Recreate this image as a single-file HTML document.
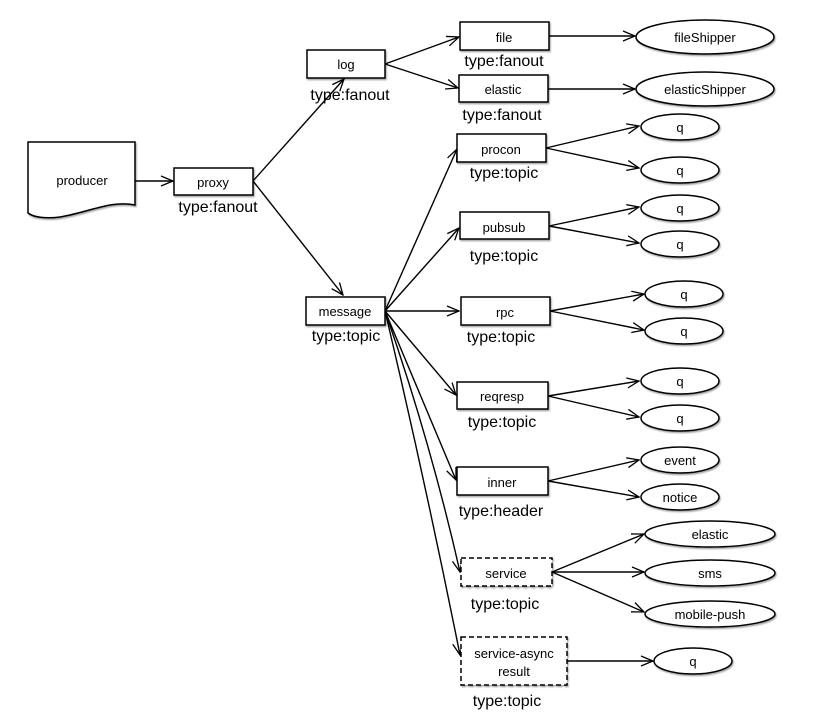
<!DOCTYPE html>
<html><head><meta charset="utf-8"><style>
html,body{margin:0;padding:0;background:#fff;}
svg{display:block;font-family:"Liberation Sans",Arial,sans-serif;}
</style></head><body>
<svg width="816" height="724" viewBox="0 0 816 724" xmlns="http://www.w3.org/2000/svg">
<defs>
<marker id="a" markerWidth="14" markerHeight="12" refX="13" refY="6" orient="auto" markerUnits="userSpaceOnUse">
<path d="M1,1 L13,6 L1,11" fill="none" stroke="#000" stroke-width="1.3"/>
</marker>
<filter id="s" x="-10%" y="-10%" width="130%" height="140%"><feDropShadow dx="1" dy="1.5" stdDeviation="0.8" flood-color="#000" flood-opacity="0.35"/></filter>
</defs>
<g stroke="#000" stroke-width="1.4" fill="none" marker-end="url(#a)">
<line x1="135" y1="181" x2="173" y2="181"/>
<line x1="253" y1="181" x2="344" y2="79"/>
<line x1="253" y1="181" x2="343" y2="295"/>
<line x1="385" y1="64" x2="459" y2="37"/>
<line x1="385" y1="64" x2="458" y2="88"/>
<line x1="549" y1="36" x2="635" y2="36"/>
<line x1="548" y1="89" x2="635" y2="89"/>
<line x1="385" y1="311" x2="457" y2="149"/>
<line x1="385" y1="311" x2="459" y2="228"/>
<line x1="385" y1="311" x2="459" y2="311"/>
<line x1="385" y1="311" x2="456" y2="395"/>
<line x1="385" y1="311" x2="456" y2="480"/>
<path d="M385,311 Q430,440 460,572"/>
<path d="M385,311 Q425,480 460,655"/>
<line x1="546" y1="148" x2="639" y2="126"/>
<line x1="546" y1="148" x2="639" y2="168"/>
<line x1="549" y1="226" x2="639" y2="207"/>
<line x1="549" y1="226" x2="639" y2="243"/>
<line x1="550" y1="311" x2="644" y2="294"/>
<line x1="550" y1="311" x2="644" y2="330"/>
<line x1="548" y1="396" x2="639" y2="381"/>
<line x1="548" y1="396" x2="639" y2="417"/>
<line x1="548" y1="481" x2="639" y2="460"/>
<line x1="548" y1="481" x2="639" y2="497"/>
<line x1="552" y1="572" x2="644" y2="534"/>
<line x1="552" y1="572" x2="644" y2="572"/>
<line x1="552" y1="572" x2="644" y2="612"/>
<line x1="567" y1="661" x2="653" y2="661"/>
</g>
<g fill="#fff" stroke="#000" stroke-width="1.5" filter="url(#s)">
<path d="M28,142 H135 V205 C110,200 90,212 60,217 C45,219 33,217 28,213 Z"/>
<rect x="174" y="168" width="79" height="27"/>
<rect x="307" y="50" width="78" height="28"/>
<rect x="306" y="297" width="79" height="28"/>
<rect x="460" y="22" width="89" height="28"/>
<rect x="459" y="75" width="89" height="27"/>
<rect x="457" y="134" width="89" height="28"/>
<rect x="460" y="212" width="89" height="27"/>
<rect x="461" y="297" width="89" height="28"/>
<rect x="457" y="382" width="91" height="27"/>
<rect x="457" y="467" width="91" height="28"/>
<rect x="461" y="558" width="91" height="28" stroke-dasharray="5,3"/>
<rect x="461" y="637" width="106" height="48" stroke-dasharray="5,3"/>
<ellipse cx="705" cy="37" rx="69" ry="17"/>
<ellipse cx="705" cy="89" rx="69" ry="17"/>
<ellipse cx="680" cy="127" rx="39" ry="13"/>
<ellipse cx="680" cy="170" rx="39" ry="13"/>
<ellipse cx="680" cy="208" rx="39" ry="13"/>
<ellipse cx="680" cy="244" rx="39" ry="13"/>
<ellipse cx="684" cy="294" rx="39" ry="13"/>
<ellipse cx="684" cy="331" rx="39" ry="13"/>
<ellipse cx="680" cy="381" rx="39" ry="13"/>
<ellipse cx="680" cy="418" rx="39" ry="13"/>
<ellipse cx="680" cy="460" rx="39" ry="13"/>
<ellipse cx="680" cy="497" rx="39" ry="13"/>
<ellipse cx="710" cy="534" rx="65" ry="13"/>
<ellipse cx="710" cy="573" rx="65" ry="13"/>
<ellipse cx="710" cy="614" rx="65" ry="13"/>
<ellipse cx="693" cy="661" rx="39" ry="13"/>
</g>
<g font-size="13" text-anchor="middle" fill="#000">
<text x="82" y="185">producer</text>
<text x="213" y="187">proxy</text>
<text x="346" y="69">log</text>
<text x="345" y="316">message</text>
<text x="504" y="42">file</text>
<text x="503" y="94">elastic</text>
<text x="501" y="154">procon</text>
<text x="504" y="232">pubsub</text>
<text x="505" y="317">rpc</text>
<text x="502" y="401">reqresp</text>
<text x="502" y="487">inner</text>
<text x="506" y="578">service</text>
<text x="514" y="658">service-async</text>
<text x="514" y="676">result</text>
<text x="705" y="42">fileShipper</text>
<text x="705" y="94">elasticShipper</text>
<text x="680" y="132">q</text><text x="680" y="175">q</text>
<text x="680" y="213">q</text><text x="680" y="249">q</text>
<text x="684" y="299">q</text><text x="684" y="336">q</text>
<text x="680" y="386">q</text><text x="680" y="423">q</text>
<text x="680" y="465">event</text><text x="680" y="502">notice</text>
<text x="710" y="539">elastic</text>
<text x="710" y="578">sms</text>
<text x="710" y="619">mobile-push</text>
<text x="693" y="666">q</text>
</g>
<g font-size="16" text-anchor="middle" fill="#000">
<text x="218" y="212">type:fanout</text>
<text x="350" y="100">type:fanout</text>
<text x="346" y="341">type:topic</text>
<text x="504" y="66">type:fanout</text>
<text x="502" y="120">type:fanout</text>
<text x="504" y="178">type:topic</text>
<text x="504" y="261">type:topic</text>
<text x="501" y="342">type:topic</text>
<text x="502" y="427">type:topic</text>
<text x="501" y="516">type:header</text>
<text x="505" y="609">type:topic</text>
<text x="507" y="706">type:topic</text>
</g>
</svg>
</body></html>
